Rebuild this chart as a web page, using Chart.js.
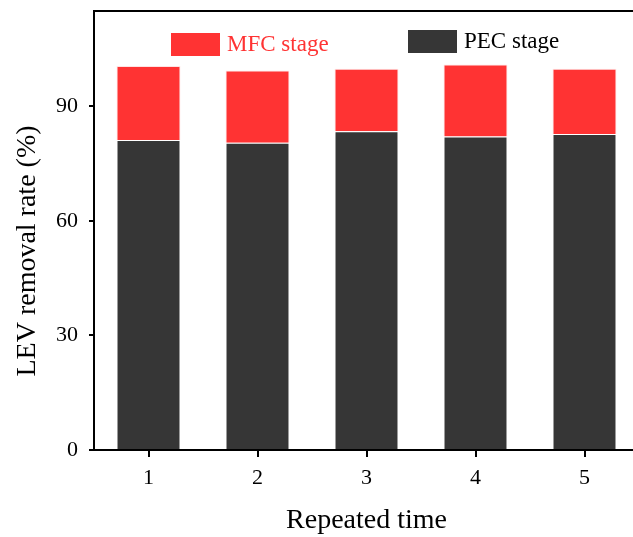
<!DOCTYPE html>
<html>
<head>
<meta charset="utf-8">
<script src="https://cdn.jsdelivr.net/npm/chart.js@4/dist/chart.umd.min.js"></script>
<style>
  html, body { margin: 0; padding: 0; background: #fff; overflow: hidden; }
  #wrap { width: 640px; height: 537px; }
</style>
</head>
<body>
<div id="wrap"><canvas id="removalChart" width="640" height="537"></canvas></div>
<script>
// values
const categories = ["1", "2", "3", "4", "5"];
const pecStage = [81.2, 80.5, 83.5, 82.1, 82.8];
const mfcStage = [19.4, 18.9, 16.4, 18.9, 17.1];
const yTicks = [0, 30, 60, 90];

const serif = "'Liberation Serif', 'Times New Roman', serif";
const red = "#ff3333";
const dark = "#363636";

// top frame line, in-plot legend and rotated y title
const extras = {
    id: "extras",
    afterDraw(chart) {
        const ctx = chart.ctx;
        const a = chart.chartArea;
        ctx.save();
        ctx.strokeStyle = "#000";
        ctx.lineWidth = 2;
        ctx.beginPath();
        ctx.moveTo(a.left - 1, a.top);
        ctx.lineTo(a.right + 2, a.top);
        ctx.stroke();

        // legend entries
        const items = [
            { ds: 1, x: 77, y: 22, color: red },
            { ds: 0, x: 314, y: 19, color: "#000" }
        ];
        ctx.font = "23px " + serif;
        ctx.textBaseline = "middle";
        items.forEach(it => {
            const ds = chart.data.datasets[it.ds];
            ctx.fillStyle = ds.backgroundColor;
            ctx.fillRect(a.left + it.x, a.top + it.y, 49, 23);
            ctx.fillStyle = it.color;
            ctx.fillText(ds.label, a.left + it.x + 56, a.top + it.y + 12);
        });

        // y axis title
        ctx.translate(28, 251);
        ctx.rotate(-Math.PI / 2);
        ctx.font = "28px " + serif;
        ctx.fillStyle = "#000";
        ctx.textAlign = "center";
        ctx.fillText("LEV removal rate (%)", 0, 0);
        ctx.restore();
    }
};

const ctx = document.getElementById("removalChart").getContext("2d");
const removalChart = new Chart(ctx, {
    type: "bar",
    data: {
        labels: categories,
        datasets: [
            {
                label: "PEC stage",
                data: pecStage,
                backgroundColor: dark,
                borderColor: "rgba(255,255,255,0.7)",
                borderWidth: 1,
                borderSkipped: "bottom"
            },
            {
                label: "MFC stage",
                data: mfcStage,
                backgroundColor: red,
                borderColor: "rgba(255,220,220,0.8)",
                borderWidth: 1,
                borderSkipped: "bottom"
            }
        ]
    },
    options: {
        responsive: false,
        animation: false,
        layout: { padding: { top: 11, right: 1, left: 0, bottom: 0 } },
        plugins: {
            legend: { display: false },
            tooltip: { enabled: false }
        },
        datasets: {
            bar: { barPercentage: 0.587, categoryPercentage: 1 }
        },
        scales: {
            x: {
                stacked: true,
                afterFit: scale => {
                    scale.height = 87;
                    scale.paddingLeft = 0;
                    scale.paddingRight = 0;
                },
                grid: {
                    offset: false,
                    drawOnChartArea: false,
                    drawTicks: true,
                    tickLength: 7,
                    color: "#000",
                    lineWidth: 2
                },
                border: { display: true, color: "#000", width: 2 },
                ticks: {
                    color: "#000",
                    padding: 8,
                    font: { family: serif, size: 22 }
                },
                title: {
                    display: true,
                    text: "Repeated time",
                    color: "#000",
                    font: { family: serif, size: 28 },
                    padding: { top: 0, bottom: 0 }
                }
            },
            y: {
                stacked: true,
                min: 0,
                max: 115,
                afterFit: scale => {
                    scale.width = 94;
                    scale.paddingTop = 0;
                    scale.paddingBottom = 0;
                },
                afterBuildTicks: scale => {
                    scale.ticks = yTicks.map(v => ({ value: v }));
                },
                grid: {
                    drawOnChartArea: false,
                    drawTicks: true,
                    tickLength: 5,
                    color: "#000",
                    lineWidth: 2
                },
                border: { display: true, color: "#000", width: 2 },
                ticks: {
                    color: "#000",
                    padding: 11,
                    font: { family: serif, size: 22 }
                }
            }
        }
    },
    plugins: [extras]
});
</script>
</body>
</html>
